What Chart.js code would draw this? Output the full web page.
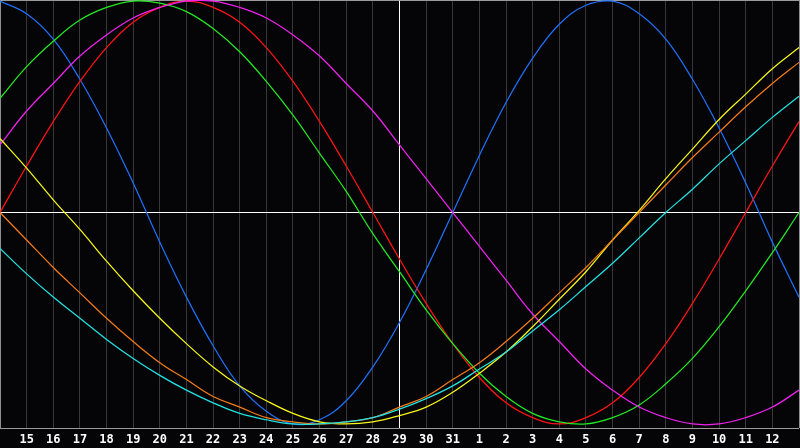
<!DOCTYPE html>
<html>
<head>
<meta charset="utf-8">
<title>Biorhythm</title>
<script src="https://cdn.jsdelivr.net/npm/chart.js@4"></script>
<style>
    html, body { margin: 0; padding: 0; background: #050508; }
    #bioChart { display: block; }
</style>
</head>
<body>
<canvas id="bioChart" width="800" height="448"></canvas>
<script>
// day labels along the bottom (first and last are not printed)
const days = ["14", "15", "16", "17", "18", "19", "20", "21", "22", "23", "24", "25", "26", "27", "28",
    "29", "30", "31", "1", "2", "3", "4", "5", "6", "7", "8", "9", "10", "11", "12", "13"];

// cycle values in percent, one per day
const physical = [100, 94, 82, 63, 40, 14, -14, -40, -63, -82, -94, -100, -98, -89, -73, -52, -27, 0,
    27, 52, 73, 89, 98, 100, 94, 82, 63, 40, 14, -14, -40];
const emotional = [0, 22, 43, 62, 78, 90, 97, 100, 97, 90, 78, 62, 43, 22, 0, -22, -43, -62, -78, -90,
    -97, -100, -97, -90, -78, -62, -43, -22, 0, 22, 43];
const intellectual = [54, 69, 81, 91, 97, 100, 99, 95, 87, 76, 62, 46, 28, 10, -10, -28, -46, -62, -76,
    -87, -95, -99, -100, -97, -91, -81, -69, -54, -37, -19, 0];
const intuitive = [32, 48, 61, 74, 84, 92, 97, 100, 100, 97, 92, 84, 74, 61, 48, 32, 16, 0, -16, -32,
    -48, -61, -74, -84, -92, -97, -100, -100, -97, -92, -84];
const aesthetic = [35, 21, 6, -8, -23, -37, -50, -62, -73, -82, -89, -95, -99, -100, -99, -96, -92,
    -85, -76, -66, -54, -41, -28, -13, 1, 16, 30, 44, 56, 68, 78];
const awareness = [0, -13, -26, -38, -50, -61, -71, -79, -87, -92, -97, -99, -100, -99, -97, -92, -87,
    -79, -71, -61, -50, -38, -26, -13, 0, 13, 26, 38, 50, 61, 71];
const spiritual = [-17, -29, -40, -50, -60, -69, -77, -84, -90, -95, -98, -100, -100, -99, -97, -93,
    -88, -82, -74, -66, -56, -46, -35, -24, -12, 0, 11, 23, 34, 45, 55];

const todayIndex = 15;

document.addEventListener("DOMContentLoaded", function () {
    initializeChart();
});

function series(label, data, color) {
    return {
        label: label,
        data: data,
        borderColor: color,
        borderWidth: 1.25,
        pointRadius: 0,
        tension: 0.4,
        fill: false,
    };
}

function initializeChart() {
    const ctx = document.getElementById("bioChart").getContext("2d");
    new Chart(ctx, {
        type: "line",
        data: {
            labels: days,
            datasets: [
                series("Spiritual", spiritual, "#22e2e2"),
                series("Awareness", awareness, "#f47a18"),
                series("Aesthetic", aesthetic, "#f6f618"),
                series("Intuitive", intuitive, "#f022f0"),
                series("Intellectual", intellectual, "#22ea22"),
                series("Emotional", emotional, "#ff1414"),
                series("Physical", physical, "#1f70f8"),
            ],
        },
        options: {
            responsive: false,
            animation: false,
            events: [],
            layout: { padding: { top: 0, right: 1, bottom: 0, left: 0 } },
            plugins: {
                legend: { display: false },
                tooltip: { enabled: false },
            },
            scales: {
                x: {
                    type: "category",
                    offset: false,
                    border: { display: false },
                    afterFit: function (scale) {
                        scale.height = 20;
                        scale.paddingLeft = 0;
                        scale.paddingRight = 0;
                    },
                    grid: {
                        drawTicks: false,
                        lineWidth: 1,
                        color: function (c) {
                            if (c.index === todayIndex) return "#ffffff";
                            if (c.index === 0 || c.index === days.length - 1) return "#8e8e8e";
                            return "#383838";
                        },
                    },
                    ticks: {
                        autoSkip: false,
                        maxRotation: 0,
                        padding: 5,
                        color: "#ffffff",
                        font: { family: "'DejaVu Sans Mono'", size: 12, weight: "bold" },
                        callback: function (value, index) {
                            if (index === 0 || index === days.length - 1) return "";
                            return days[index];
                        },
                    },
                },
                y: {
                    min: -101.9,
                    max: 100.5,
                    border: { display: false },
                    afterFit: function (scale) {
                        scale.width = 0;
                        scale.paddingTop = 0;
                        scale.paddingBottom = 0;
                    },
                    afterBuildTicks: function (scale) {
                        scale.ticks = [{ value: -101.9 }, { value: 0 }, { value: 100.5 }];
                    },
                    grid: {
                        drawTicks: false,
                        lineWidth: 1,
                        color: function (c) {
                            return c.tick && c.tick.value === 0 ? "#ffffff" : "#9a9a9a";
                        },
                    },
                    ticks: { display: false },
                },
            },
        },
    });
}
</script>
</body>
</html>
